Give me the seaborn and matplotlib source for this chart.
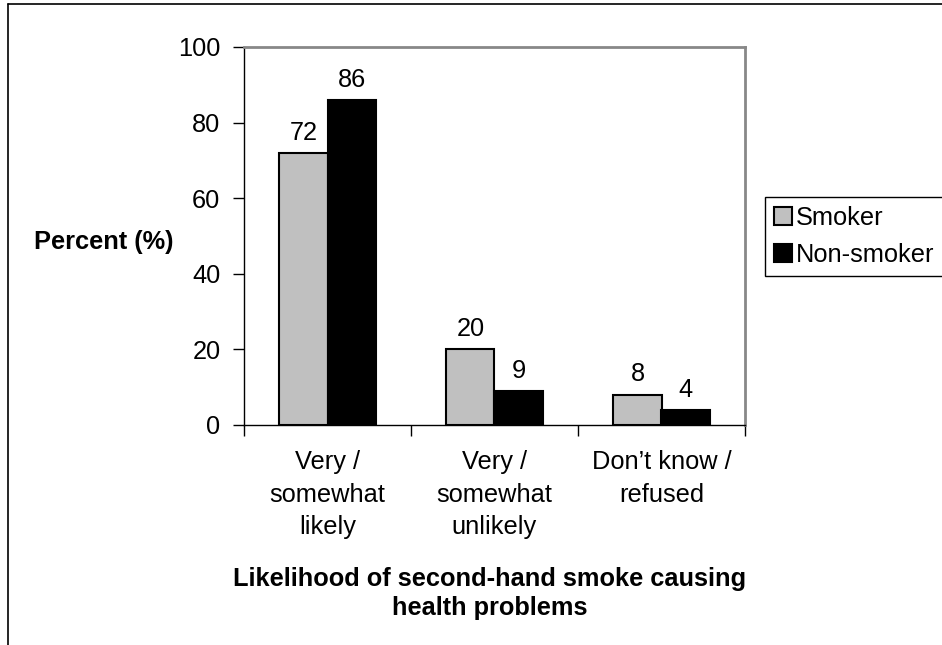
import matplotlib
matplotlib.use("Agg")
import matplotlib.pyplot as plt
import seaborn as sns
import pandas as pd
from matplotlib.lines import Line2D
from matplotlib.ticker import FixedLocator

categories = ["Very /\nsomewhat\nlikely", "Very /\nsomewhat\nunlikely", "Don\u2019t know /\nrefused"]
series_names = ["Smoker", "Non-smoker"]
smoker = [72, 20, 8]
non_smoker = [86, 9, 4]
y_ticks = [0, 20, 40, 60, 80, 100]
colors = {"Smoker": "#C0C0C0", "Non-smoker": "#000000"}

sns.set_theme(style="white")
plt.rcParams["font.family"] = ["Liberation Sans", "DejaVu Sans"]
plt.rcParams["text.color"] = "black"
plt.rcParams["axes.labelcolor"] = "black"
plt.rcParams["xtick.color"] = "black"
plt.rcParams["ytick.color"] = "black"

df = pd.DataFrame({
    "category": categories * 2,
    "series": [series_names[0]] * 3 + [series_names[1]] * 3,
    "value": smoker + non_smoker,
})

fig = plt.figure(figsize=(9.42, 6.45), dpi=100)
ax = fig.add_axes([244 / 942, 1 - 425 / 645, 501 / 942, 378 / 645])

sns.barplot(data=df, x="category", y="value", hue="series", hue_order=series_names,
            palette=colors, width=0.575, gap=0, edgecolor="black", linewidth=1.5,
            errorbar=None, ax=ax, saturation=1)

fs = 18.3
for cont in ax.containers:
    ax.bar_label(cont, fmt="%d", padding=6, fontsize=fs, color="black")

ax.set_ylim(0, 100)
ax.set_xlim(-0.5, 2.5)
ax.set_yticks(y_ticks)
ax.tick_params(axis="y", which="major", direction="out", length=8, width=1,
               labelsize=fs, pad=9, left=True, colors="black")
ax.set_xticks(range(3))
ax.set_xticklabels(categories, fontsize=fs, linespacing=1.46, color="black")
ax.tick_params(axis="x", which="major", length=0, pad=18, labelsize=fs)
ax.xaxis.set_minor_locator(FixedLocator([-0.5, 0.5, 1.5, 2.5]))
ax.tick_params(axis="x", which="minor", direction="out", length=8, width=1,
               bottom=True, color="black")

for s in ["left", "bottom"]:
    ax.spines[s].set_color("black")
    ax.spines[s].set_linewidth(1)
for s in ["top", "right"]:
    ax.spines[s].set_color("#888888")
    ax.spines[s].set_linewidth(2)

ax.set_ylabel("Percent (%)", fontsize=fs, fontweight="bold", rotation=0,
              ha="center", va="center", color="black")
ax.yaxis.set_label_coords(-0.279, 0.484)
ax.set_xlabel("Likelihood of second-hand smoke causing\nhealth problems",
              fontsize=fs, fontweight="bold", linespacing=1.25, ha="center", va="center",
              color="black")
ax.xaxis.set_label_coords(0.49, -0.445)

ax.get_legend().remove()
handles = [plt.Rectangle((0, 0), 1, 1, facecolor=colors[n], edgecolor="black", linewidth=1.5)
           for n in series_names]
leg = fig.legend(handles, series_names, loc="upper left",
                 bbox_to_anchor=(765 / 942, 1 - 197 / 645), fontsize=fs,
                 frameon=True, fancybox=False, edgecolor="black", framealpha=1,
                 handlelength=0.7, handleheight=0.7, handletextpad=0.15,
                 borderpad=0.35, labelspacing=0.5, borderaxespad=0)
leg.get_frame().set_linewidth(1)
for t in leg.get_texts():
    t.set_color("black")

fig.add_artist(Line2D([8 / 942, 1], [1 - 4 / 645, 1 - 4 / 645], transform=fig.transFigure,
                      color="black", linewidth=1.2))
fig.add_artist(Line2D([8 / 942, 8 / 942], [0, 1 - 4 / 645], transform=fig.transFigure,
                      color="black", linewidth=1.2))

fig.savefig("out.png", dpi=100, facecolor="white")
